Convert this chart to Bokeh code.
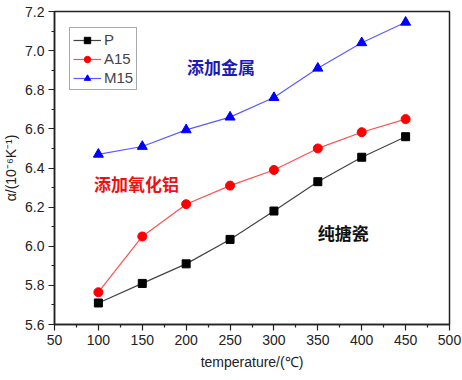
from bokeh.plotting import figure
from bokeh.models import Range1d, Label, Legend, LegendItem, FixedTicker, CustomJSTickFormatter
from bokeh.embed import file_html
from bokeh.resources import INLINE

temps = [100, 150, 200, 250, 300, 350, 400, 450]
p_vals = [5.71, 5.81, 5.91, 6.035, 6.18, 6.33, 6.455, 6.56]
a15_vals = [5.765, 6.05, 6.215, 6.31, 6.39, 6.50, 6.583, 6.65]
m15_vals = [6.47, 6.51, 6.595, 6.66, 6.76, 6.91, 7.04, 7.145]
x_ticks = [50, 100, 150, 200, 250, 300, 350, 400, 450, 500]
y_ticks = [5.6, 5.8, 6.0, 6.2, 6.4, 6.6, 6.8, 7.0, 7.2]

p = figure(width=462, height=380, output_backend="svg", toolbar_location=None,
           x_range=Range1d(50, 500), y_range=Range1d(5.6, 7.2),
           min_border_left=54, min_border_right=13, min_border_top=11, min_border_bottom=56)
p.grid.visible = False
p.outline_line_color = "#222222"
p.outline_line_width = 1.5
p.background_fill_color = "white"
p.border_fill_color = "white"

for ax in (p.xaxis[0], p.yaxis[0]):
    ax.axis_line_color = "#222222"
    ax.axis_line_width = 1.5
    ax.major_tick_line_color = "#222222"
    ax.minor_tick_line_color = "#222222"
    ax.major_tick_line_width = 1.2
    ax.minor_tick_line_width = 1.2
    ax.major_tick_out = 6
    ax.major_tick_in = 0
    ax.minor_tick_out = 3
    ax.minor_tick_in = 0
    ax.major_label_text_font = "Liberation Sans"
    ax.major_label_text_font_size = "14px"
    ax.major_label_text_color = "#222222"
    ax.axis_label_text_font = "Liberation Sans"
    ax.axis_label_text_font_style = "normal"
    ax.axis_label_text_font_size = "14px"
    ax.axis_label_text_color = "#222222"

p.xaxis[0].ticker = FixedTicker(ticks=x_ticks, minor_ticks=[75 + 50 * i for i in range(9)])
p.yaxis[0].ticker = FixedTicker(ticks=y_ticks, minor_ticks=[5.7 + 0.2 * i for i in range(8)])
p.yaxis[0].formatter = CustomJSTickFormatter(code="return tick.toFixed(1);")
p.xaxis[0].axis_label = "temperature/(℃)"
p.yaxis[0].axis_label = "α/(10⁻⁶K⁻¹)"
p.xaxis[0].major_label_standoff = 4
p.yaxis[0].major_label_standoff = 4
p.xaxis[0].axis_label_standoff = 6
p.yaxis[0].axis_label_standoff = 3

lp = p.line(temps, p_vals, line_color="#444444", line_width=1.2)
mp = p.scatter(temps, p_vals, marker="square", size=8, color="black")
la = p.line(temps, a15_vals, line_color="#ff5050", line_width=1.2)
ma = p.scatter(temps, a15_vals, marker="circle", size=9, color="#ff0000")
lm = p.line(temps, m15_vals, line_color="#5a5aff", line_width=1.2)
mm = p.scatter(temps, m15_vals, marker="triangle", size=10, color="#0000ff")

legend = Legend(items=[LegendItem(label="P", renderers=[lp, mp]),
                       LegendItem(label="A15", renderers=[la, ma]),
                       LegendItem(label="M15", renderers=[lm, mm])],
                location=(15, 234), label_text_font="Liberation Sans",
                label_text_font_size="15px", border_line_color="#555555",
                border_line_width=1, glyph_width=28, glyph_height=16,
                label_height=16, spacing=2, padding=3, margin=0,
                label_standoff=3, background_fill_alpha=1.0)
p.add_layout(legend, "center")

font = "Noto Sans CJK SC"
p.add_layout(Label(x=201, y=6.92, text="添加金属", text_font=font, text_font_style="bold",
                   text_font_size="17px", text_color="#1c1cb4", text_baseline="middle"))
p.add_layout(Label(x=95, y=6.32, text="添加氧化铝", text_font=font, text_font_style="bold",
                   text_font_size="17px", text_color="#ee1111", text_baseline="middle"))
p.add_layout(Label(x=350, y=6.07, text="纯搪瓷", text_font=font, text_font_style="bold",
                   text_font_size="17px", text_color="#111111", text_baseline="middle"))

open("out.html", "w").write(file_html(p, INLINE))
